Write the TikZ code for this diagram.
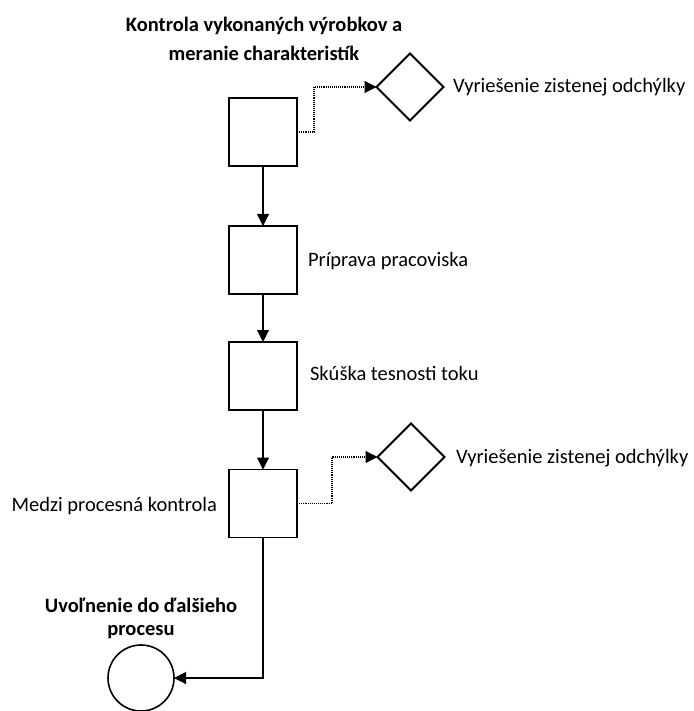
\documentclass[tikz,border=0pt]{standalone}
\usepackage{fontspec}
\setmainfont{Carlito}
\usetikzlibrary{arrows.meta,shapes.geometric}

\begin{document}
\begin{tikzpicture}[x=1pt,y=-1pt,
  every node/.style={inner sep=0pt, outer sep=0pt},
  task/.style={draw=black, line width=1.6pt, minimum width=68pt, minimum height=68pt},
  decision/.style={draw=black, line width=1.9pt, diamond, aspect=1, minimum width=67pt, minimum height=67pt},
  terminal/.style={draw=black, line width=1.6pt, circle, minimum size=66pt},
  label/.style={font=\fontsize{20.5}{24}\selectfont},
  heading/.style={font=\bfseries\fontsize{20.5}{29}\selectfont, align=center},
  flow/.style={draw=black, line width=1.1pt, -{Triangle[length=12pt,width=12pt]}},
  deviation/.style={draw=black, line width=1.1pt, densely dotted, -{Triangle[length=12pt,width=12pt]}}
]
\useasboundingbox (0,0) rectangle (693,711);

% process steps
\node[task] (s1) at (263,132) {};
\node[task] (s2) at (263,260) {};
\node[task] (s3) at (263,376) {};
\node[task] (s4) at (263,503.5) {};

% deviation handling
\node[decision] (d1) at (410,87) {};
\node[decision] (d2) at (411,457) {};

% end event
\node[terminal] (e) at (141,678) {};

% texts (base anchor of a two-line node sits on its last line)
\node[heading, anchor=base] (t1) at (264,61) {Kontrola vykonaných výrobkov a\\meranie charakteristík};
\node[label, anchor=base west] (l1) at (453,93) {Vyriešenie zistenej odchýlky};
\node[label, anchor=base west] (l2) at (308,266) {Príprava pracoviska};
\node[label, anchor=base west] (l3) at (310,380) {Skúška tesnosti toku};
\node[label, anchor=base west] (l4) at (456,463) {Vyriešenie zistenej odchýlky};
\node[label, anchor=base east] (l5) at (217,511) {Medzi procesná kontrola};
\node[heading, anchor=base, font=\bfseries\fontsize{20.5}{22.5}\selectfont] (t2) at (141,635) {Uvoľnenie do ďalšieho\\procesu};

% main flow
\draw[flow] (s1) -- (s2);
\draw[flow] (s2) -- (s3);
\draw[flow] (s3) -- (s4);
\draw[flow] (s4.south) |- (e.east);

% dotted branches to deviation handling
\draw[deviation] (s1.east) -| (314,87) -- (d1.west);
\draw[deviation] (s4.east) -| (332,457) -- (d2.west);
\end{tikzpicture}
\end{document}
